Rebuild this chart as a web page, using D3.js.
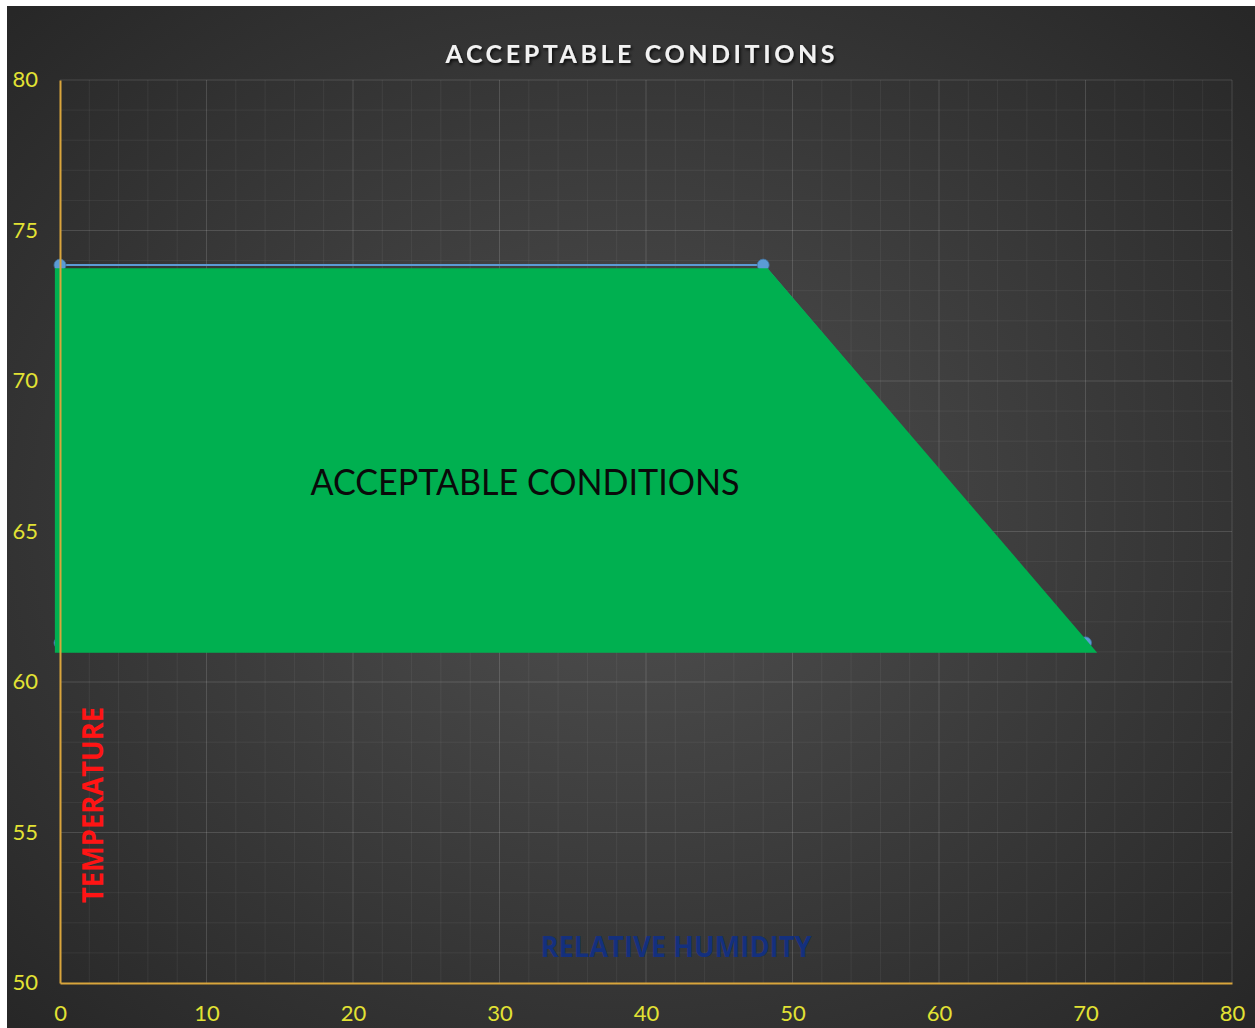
<!DOCTYPE html>
<html>
<head>
<meta charset="utf-8">
<script src="https://cdn.jsdelivr.net/npm/d3@7"></script>
<style>
  body { margin: 0; background: #ffffff; }
  svg { display: block; }
</style>
</head>
<body>
<div id="chart-area"></div>
<script>
// Boundary series (blue line with markers)
const boundaryHumidity = [0, 48, 70, 0];
const boundaryTemp = [73.85, 73.85, 61.3, 61.3];

// Green region shape drawn over the series
const regionHumidity = [-0.35, 48.3, 70.8, -0.35];
const regionTemp = [73.75, 73.75, 60.97, 60.97];

// Axis ticks
const xTicks = [0, 10, 20, 30, 40, 50, 60, 70, 80];
const yTicks = [50, 55, 60, 65, 70, 75, 80];

const width = 1255;
const height = 1028;

const svg = d3.select("#chart-area")
    .append("svg")
    .attr("width", width)
    .attr("height", height);

const defs = svg.append("defs");

// Dark radial background, lighter in the middle
const grad = defs.append("radialGradient")
    .attr("id", "bg")
    .attr("cx", "50%").attr("cy", "50%").attr("r", "70%");
grad.append("stop").attr("offset", "0%").attr("stop-color", "#505050");
grad.append("stop").attr("offset", "100%").attr("stop-color", "#272727");

const shadow = defs.append("filter").attr("id", "shadow")
    .attr("x", "-10%").attr("y", "-30%").attr("width", "120%").attr("height", "160%");
shadow.append("feDropShadow")
    .attr("dx", 1.5).attr("dy", 2).attr("stdDeviation", 1.5)
    .attr("flood-color", "#000").attr("flood-opacity", 0.8);

svg.append("rect")
    .attr("x", 7).attr("y", 6)
    .attr("width", width - 7).attr("height", height - 6)
    .attr("fill", "url(#bg)");

// Scales
const x = d3.scaleLinear().domain([0, 80]).range([60, 1232]);
const y = d3.scaleLinear().domain([50, 80]).range([983, 80]);

// Gridlines - minor and major
const grid = svg.append("g");
grid.selectAll(".vminor")
    .data(d3.range(2, 81, 2))
    .enter().append("line")
    .attr("x1", d => x(d)).attr("x2", d => x(d))
    .attr("y1", y(80)).attr("y2", y(50))
    .attr("stroke", d => d % 10 === 0 ? "rgba(255,255,255,0.14)" : "rgba(255,255,255,0.06)")
    .attr("stroke-width", 1);
grid.selectAll(".hminor")
    .data(d3.range(51, 81, 1))
    .enter().append("line")
    .attr("x1", x(0)).attr("x2", x(80))
    .attr("y1", d => y(d)).attr("y2", d => y(d))
    .attr("stroke", d => d % 5 === 0 ? "rgba(255,255,255,0.14)" : "rgba(255,255,255,0.06)")
    .attr("stroke-width", 1);

// Boundary line + markers
const line = d3.line().x(d => x(d[0])).y(d => y(d[1]));
const boundary = boundaryHumidity.map((h, i) => [h, boundaryTemp[i]]);
svg.append("path")
    .attr("d", line(boundary.concat([boundary[0]])))
    .attr("fill", "none")
    .attr("stroke", "#5b9bd5")
    .attr("stroke-width", 2);
svg.selectAll(".marker")
    .data(boundary)
    .enter().append("circle")
    .attr("cx", d => x(d[0]))
    .attr("cy", d => y(d[1]))
    .attr("r", 6)
    .attr("fill", "#5b9bd5")
    .attr("stroke", "#41719c")
    .attr("stroke-width", 0.8);

// Green region on top
const region = regionHumidity.map((h, i) => [h, regionTemp[i]]);
svg.append("path")
    .attr("d", line(region) + "Z")
    .attr("fill", "#00b050");

svg.append("text")
    .attr("x", 525).attr("y", 495)
    .attr("text-anchor", "middle")
    .attr("textLength", 429)
    .attr("lengthAdjust", "spacingAndGlyphs")
    .style("font-family", "Lato, 'Open Sans', sans-serif")
    .style("font-size", "36px")
    .style("fill", "#0a0a0a")
    .text("ACCEPTABLE CONDITIONS");

// Axes
const axisColor = "#d9a53c";
const yAxis = svg.append("g")
    .attr("transform", `translate(${x(0)},0)`)
    .call(d3.axisLeft(y).tickValues(yTicks).tickSize(0).tickPadding(22));
const xAxis = svg.append("g")
    .attr("transform", `translate(0,${y(50)})`)
    .call(d3.axisBottom(x).tickValues(xTicks).tickSize(0).tickPadding(28));
[xAxis, yAxis].forEach(a => {
    a.select(".domain").attr("stroke", axisColor).attr("stroke-width", 2);
    a.selectAll("text")
        .style("font-family", "Lato, 'Open Sans', sans-serif")
        .style("font-size", "22px")
        .style("fill", "#e2e234");
});
yAxis.selectAll("text").attr("dy", "0.3em");
xAxis.selectAll("text").attr("dy", "0.45em");

// Title
svg.append("text")
    .attr("x", 640).attr("y", 63)
    .attr("text-anchor", "middle")
    .attr("textLength", 389)
    .attr("lengthAdjust", "spacing")
    .attr("filter", "url(#shadow)")
    .style("font-family", "Lato, 'Open Sans', sans-serif")
    .style("font-weight", "bold")
    .style("font-size", "25px")
    .style("fill", "#f2f2f2")
    .text("ACCEPTABLE CONDITIONS");

// Axis titles
svg.append("text")
    .attr("x", 676).attr("y", 957)
    .attr("text-anchor", "middle")
    .attr("textLength", 271)
    .attr("lengthAdjust", "spacingAndGlyphs")
    .style("font-family", "'Open Sans', sans-serif")
    .style("font-weight", "700")
    .style("font-size", "29px")
    .style("fill", "#14307e")
    .text("RELATIVE HUMIDITY");

svg.append("text")
    .attr("transform", "translate(103,805) rotate(-90)")
    .attr("text-anchor", "middle")
    .attr("textLength", 196)
    .attr("lengthAdjust", "spacingAndGlyphs")
    .style("font-family", "'Open Sans', sans-serif")
    .style("font-weight", "700")
    .style("font-size", "29px")
    .style("fill", "#ff1414")
    .text("TEMPERATURE");
</script>
</body>
</html>
